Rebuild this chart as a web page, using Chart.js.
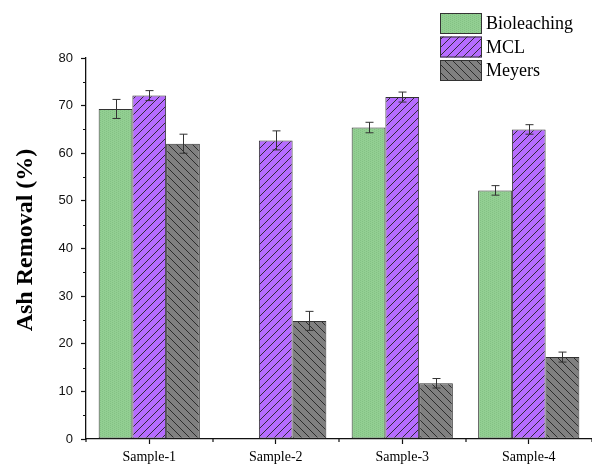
<!DOCTYPE html>
<html>
<head>
<meta charset="utf-8">
<script src="https://cdn.jsdelivr.net/npm/chart.js@4"></script>
<style>
  html, body { margin: 0; padding: 0; background: #fff; }
  canvas { display: block; }
</style>
</head>
<body>
<canvas id="c" width="592" height="465"></canvas>
<script>
// Ash removal for each sample and treatment method
const categories = ['Sample-1', 'Sample-2', 'Sample-3', 'Sample-4'];
const seriesNames = ['Bioleaching', 'MCL', 'Meyers'];
const bioleaching = [69.3, null, 65.4, 52.2];
const mcl = [72.1, 62.7, 71.8, 65.0];
const meyers = [62.0, 24.8, 11.7, 17.2];
const bioleachingErr = [2.0, null, 1.1, 1.0];
const mclErr = [1.05, 2.0, 1.05, 1.0];
const meyersErr = [2.0, 2.0, 1.0, 1.05];
const yTicks = [0, 10, 20, 30, 40, 50, 60, 70, 80];
const yTitle = 'Ash Removal (%)';

function tile(base, kind) {
  const s = 8;
  const c = document.createElement('canvas');
  c.width = c.height = s;
  const g = c.getContext('2d');
  g.fillStyle = base;
  g.fillRect(0, 0, s, s);
  if (kind === 'dots') {
    g.fillStyle = 'rgba(90,150,90,0.25)';
    for (let i = 0; i < s; i += 2) for (let j = (i / 2) % 2; j < s; j += 2) g.fillRect(i, j, 1, 1);
  } else {
    g.strokeStyle = 'rgba(35,35,35,0.9)';
    g.lineWidth = 1;
    g.beginPath();
    if (kind === '/') {
      g.moveTo(-1, s + 1); g.lineTo(s + 1, -1);
      g.moveTo(-1, 1); g.lineTo(1, -1);
      g.moveTo(s - 1, s + 1); g.lineTo(s + 1, s - 1);
    } else {
      g.moveTo(-1, -1); g.lineTo(s + 1, s + 1);
      g.moveTo(s - 1, -1); g.lineTo(s + 1, 1);
      g.moveTo(-1, s - 1); g.lineTo(1, s + 1);
    }
    g.stroke();
  }
  return g.createPattern(c, 'repeat');
}

const fills = [tile('#92cf92', 'dots'), tile('#b66cff', '/'), tile('#808080', '\\')];
const values = [bioleaching, mcl, meyers];
const errors = [bioleachingErr, mclErr, meyersErr];

const datasets = seriesNames.map((name, i) => ({
  label: name,
  data: values[i],
  errors: errors[i],
  backgroundColor: fills[i],
  borderColor: '#333333',
  borderWidth: 1,
  borderSkipped: false,
  categoryPercentage: 0.8,
  barPercentage: 1.0
}));

const AXIS = '#111111';

// Error bars, minor ticks, legend and y-axis title
const extras = {
  id: 'extras',
  afterDatasetsDraw(chart) {
    const ctx = chart.ctx;
    const y = chart.scales.y;
    ctx.save();
    ctx.strokeStyle = '#333333';
    ctx.lineWidth = 1;
    chart.data.datasets.forEach((ds, di) => {
      const meta = chart.getDatasetMeta(di);
      meta.data.forEach((bar, i) => {
        const v = ds.data[i], e = ds.errors[i];
        if (v == null || e == null) return;
        const x = Math.round(bar.x) + 0.5;
        const yt = y.getPixelForValue(v + e);
        const yb = y.getPixelForValue(v - e);
        ctx.beginPath();
        ctx.moveTo(x, yt); ctx.lineTo(x, yb);
        ctx.moveTo(x - 4, yt); ctx.lineTo(x + 4, yt);
        ctx.moveTo(x - 4, yb); ctx.lineTo(x + 4, yb);
        ctx.stroke();
      });
    });
    ctx.restore();
  },
  afterDraw(chart) {
    const ctx = chart.ctx;
    const { x, y } = chart.scales;
    const area = chart.chartArea;
    ctx.save();
    ctx.strokeStyle = AXIS;
    ctx.lineWidth = 1.2;
    // minor ticks on y axis
    ctx.beginPath();
    for (let v = 5; v < 80; v += 10) {
      const py = Math.round(y.getPixelForValue(v)) + 0.5;
      ctx.moveTo(area.left, py); ctx.lineTo(area.left - 3, py);
    }
    // minor ticks on x axis between categories
    for (let i = 0; i <= categories.length; i++) {
      const px = Math.round(x.getPixelForValue(i - 0.5));
      ctx.moveTo(px, area.bottom); ctx.lineTo(px, area.bottom + 3);
    }
    ctx.stroke();

    // y-axis title
    ctx.fillStyle = '#000';
    ctx.font = 'bold 24px "Liberation Serif", "Times New Roman", serif';
    ctx.textAlign = 'center';
    ctx.textBaseline = 'middle';
    ctx.translate(26, 240);
    ctx.rotate(-Math.PI / 2);
    ctx.fillText(yTitle, 0, 0);
    ctx.setTransform(1, 0, 0, 1, 0, 0);

    // legend
    ctx.font = '18px "Liberation Serif", "Times New Roman", serif';
    ctx.textAlign = 'left';
    ctx.textBaseline = 'middle';
    chart.data.datasets.forEach((ds, i) => {
      const bx = 440, by = 13 + i * 23.5, bw = 42, bh = 21;
      ctx.fillStyle = ds.backgroundColor;
      ctx.fillRect(bx, by, bw, bh);
      ctx.strokeStyle = '#333333';
      ctx.lineWidth = 1;
      ctx.strokeRect(bx + 0.5, by + 0.5, bw - 1, bh - 1);
      ctx.fillStyle = '#000';
      ctx.fillText(ds.label, 486, by + bh / 2 + 1);
    });
    ctx.restore();
  }
};

new Chart(document.getElementById('c'), {
  type: 'bar',
  data: { labels: categories, datasets },
  options: {
    responsive: false,
    devicePixelRatio: 1,
    animation: false,
    layout: { padding: { left: 0, right: 0, top: 58, bottom: 0 } },
    plugins: { legend: { display: false }, tooltip: { enabled: false } },
    scales: {
      x: {
        offset: true,
        grid: { display: true, offset: false, drawOnChartArea: false, drawTicks: true, tickLength: 5, tickColor: AXIS, tickWidth: 1.2 },
        border: { display: true, color: AXIS, width: 1.3 },
        ticks: { color: '#000', padding: 5, font: { family: '"Liberation Serif", "Times New Roman", serif', size: 14 } },
        afterFit(scale) { scale.height = 26; }
      },
      y: {
        min: 0,
        max: 80,
        afterBuildTicks(scale) { scale.ticks = yTicks.map(v => ({ value: v })); },
        grid: { display: true, drawOnChartArea: false, drawTicks: true, tickLength: 5, tickColor: AXIS, tickWidth: 1.2 },
        border: { display: true, color: AXIS, width: 1.3 },
        ticks: { color: '#111', padding: 8, font: { family: '"Liberation Sans", Arial, sans-serif', size: 13 } },
        afterFit(scale) { scale.width = 86; }
      }
    }
  },
  plugins: [extras]
});
</script>
</body>
</html>
